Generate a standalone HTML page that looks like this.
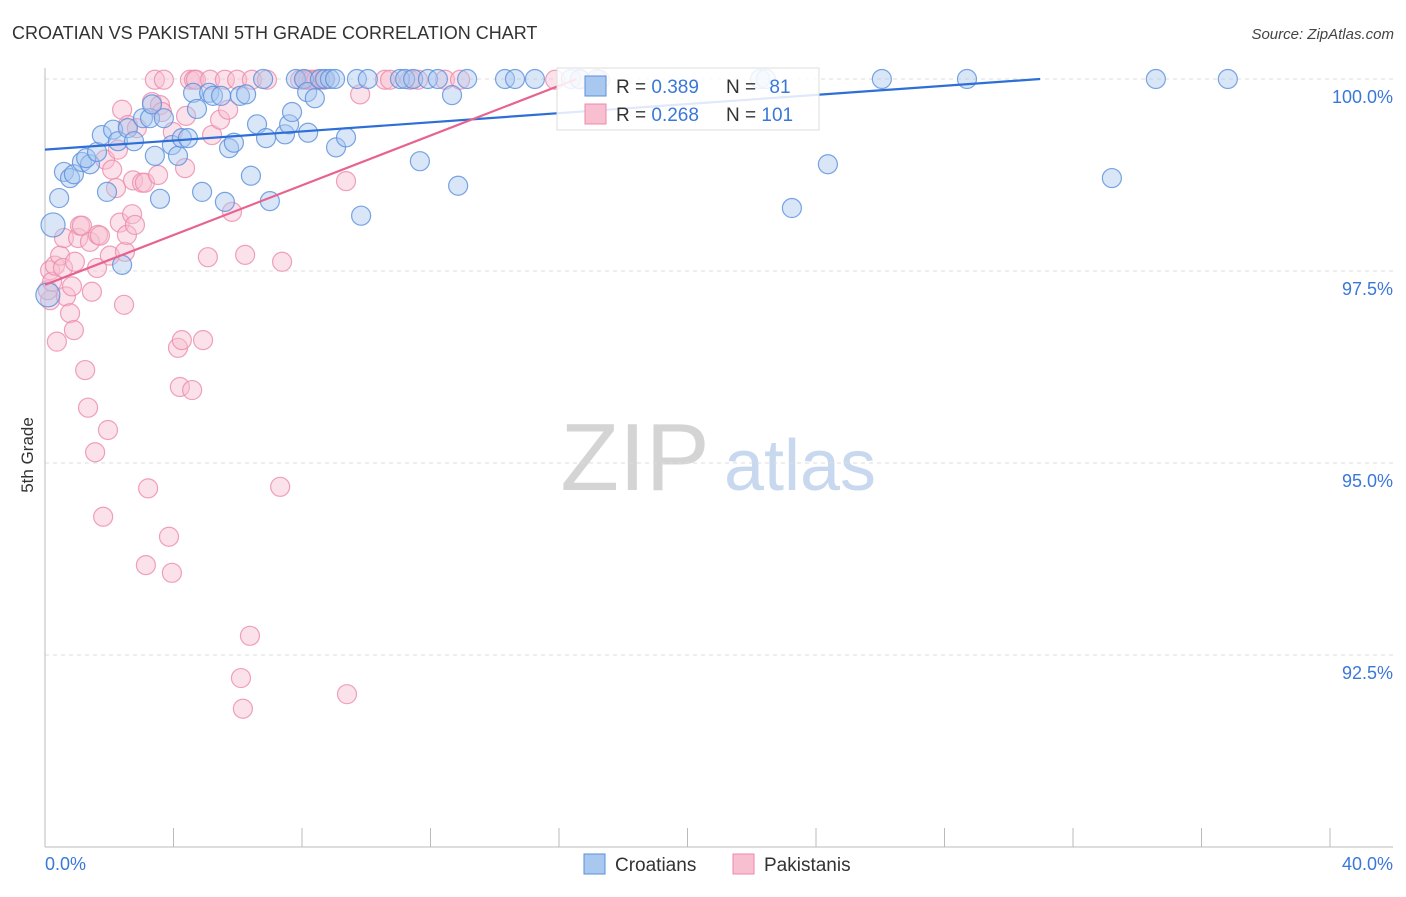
<!DOCTYPE html>
<html><head><meta charset="utf-8"><style>
body{margin:0;background:#fff;font-family:"Liberation Sans",sans-serif;}
svg text{font-family:"Liberation Sans",sans-serif;}
</style></head><body>
<svg id="chart" width="1406" height="892" xmlns="http://www.w3.org/2000/svg">
<text x="12" y="39" font-size="18" fill="#333">CROATIAN VS PAKISTANI 5TH GRADE CORRELATION CHART</text>
<text x="1394" y="39" font-size="15" font-style="italic" fill="#444" text-anchor="end">Source: ZipAtlas.com</text>
<text transform="translate(33,455) rotate(-90)" font-size="17" fill="#333" text-anchor="middle">5th Grade</text>
<g>
<text x="635" y="490" font-size="96" font-family="Liberation Serif" fill="#d4d4d4" text-anchor="middle" font-family="Liberation Serif,serif">ZIP</text>
<text x="800" y="490" font-size="72" fill="#c8d8ee" text-anchor="middle">atlas</text>
</g>
<g id="grid"></g>
<g id="axes"></g>
<g id="pts"></g>
<g id="lines"></g>
<g>
<rect x="557" y="68" width="262" height="62" fill="#fff" fill-opacity="0.85" stroke="#ddd"/>
<rect x="585" y="76" width="21" height="20" fill="#a9c8ef" stroke="#5a8fdc"/>
<rect x="585" y="104" width="21" height="20" fill="#f7bfd0" stroke="#ec8aaa"/>
<text x="616" y="93" font-size="19" fill="#333">R = <tspan fill="#3a78d8">0.389</tspan></text>
<text x="726" y="93" font-size="19" fill="#333">N = <tspan fill="#3a78d8" dx="8">81</tspan></text>
<text x="616" y="121" font-size="19" fill="#333">R = <tspan fill="#3a78d8">0.268</tspan></text>
<text x="726" y="121" font-size="19" fill="#333">N = <tspan fill="#3a78d8">101</tspan></text>
</g>
<g>
<rect x="584" y="854" width="21" height="20" fill="#a9c8ef" stroke="#5a8fdc"/>
<text x="615" y="871" font-size="19" fill="#333">Croatians</text>
<rect x="733" y="854" width="21" height="20" fill="#f7bfd0" stroke="#ec8aaa"/>
<text x="764" y="871" font-size="19" fill="#333">Pakistanis</text>
</g>
</svg>
<script>
const yTicks=[100,97.5,95,92.5];
const yTickLabels=["100.0%","97.5%","95.0%","92.5%"];
const xMin=0,xMax=40,yMin=90,yMax=100;
const croX=[0.25,0.44,0.59,0.78,0.90,1.15,1.40,1.28,1.62,1.77,1.93,2.12,2.27,2.40,2.58,2.77,3.05,3.27,3.33,3.42,3.58,3.70,3.95,4.14,4.26,4.45,4.61,4.73,4.89,5.11,5.23,5.48,5.60,5.73,5.88,6.07,6.26,6.41,6.60,6.79,6.88,7.00,7.47,7.60,7.69,7.81,8.06,8.16,8.19,8.40,8.56,8.72,8.87,9.03,9.06,9.37,9.71,9.84,10.05,11.05,11.21,11.46,11.67,11.92,12.23,12.67,12.86,13.14,14.32,14.63,15.25,16.37,16.65,17.18,22.26,22.44,23.25,24.37,26.05,28.70,33.21,34.58,36.82,0.09];
const croY=[98.10,98.45,98.79,98.71,98.76,98.92,98.89,98.97,99.05,99.27,98.53,99.34,99.19,97.58,99.36,99.19,99.49,99.49,99.67,99.00,98.44,99.49,99.14,99.00,99.23,99.23,99.82,99.61,98.53,99.82,99.78,99.78,98.40,99.10,99.17,99.78,99.80,98.74,99.41,100,99.23,98.41,99.28,99.41,99.57,100,100,99.83,99.30,99.75,100,100,100,100,99.11,99.24,100,98.22,100,100,100,100,98.93,100,100,99.79,98.61,100,100,100,100,100,100,100,100,100,98.32,98.89,100,100,98.71,100,100,97.19];
const pakX=[0.16,0.09,0.16,0.22,0.31,0.37,0.47,0.56,0.59,0.65,0.78,0.84,0.90,0.93,1.03,1.09,1.15,1.25,1.34,1.40,1.46,1.56,1.62,1.65,1.71,1.81,1.87,1.96,2.02,2.09,2.21,2.27,2.33,2.40,2.46,2.49,2.55,2.58,2.71,2.74,2.80,2.86,3.02,3.11,3.14,3.21,3.33,3.42,3.52,3.58,3.64,3.70,3.86,3.95,3.98,4.14,4.20,4.26,4.36,4.39,4.51,4.58,4.64,4.70,4.92,5.07,5.14,5.20,5.45,5.60,5.70,5.82,5.98,6.10,6.16,6.23,6.38,6.44,6.91,7.32,7.38,7.94,8.09,8.19,8.31,8.44,8.56,8.68,9.37,9.40,9.81,10.58,10.74,11.36,11.61,12.45,12.92,15.88,16.65,17.28];
const pakY=[97.12,97.25,97.51,97.36,97.57,96.58,97.70,97.54,97.93,97.17,96.95,97.30,96.73,97.62,97.93,98.09,98.09,96.21,95.72,97.88,97.23,95.14,97.54,97.97,97.96,94.30,98.95,95.43,97.70,98.82,98.58,99.08,98.13,99.60,97.06,97.75,97.97,99.40,98.24,98.68,98.10,99.36,98.65,98.65,93.67,94.67,99.70,99.99,98.75,99.66,99.57,99.99,94.04,93.57,99.31,96.50,95.99,96.60,98.84,99.52,99.99,95.95,99.99,99.99,96.60,97.68,99.99,99.27,99.47,99.99,99.60,98.27,99.99,92.20,91.80,97.71,92.75,99.99,99.99,94.69,97.62,99.99,99.99,99.99,99.99,99.99,99.99,99.99,98.67,91.99,99.80,99.99,99.99,99.99,99.99,99.99,99.99,99.99,99.99,99.99];
const croTrend=[99.08,0.0297]; // intercept, slope per %
const pakTrend=[97.32,0.162];
const X=v=>45+(v-xMin)/(xMax-xMin)*1285;
const Y=v=>79+(yMax-v)/(yMax-yMin)*768;
const NS="http://www.w3.org/2000/svg";
function mk(tag,attrs,parent){const e=document.createElementNS(NS,tag);for(const k in attrs)e.setAttribute(k,attrs[k]);parent.appendChild(e);return e;}
const grid=document.getElementById('grid'),axes=document.getElementById('axes'),pts=document.getElementById('pts'),lines=document.getElementById('lines');
yTicks.forEach((t,i)=>{
 const l=mk('line',{x1:45,x2:1393,y1:Y(t),y2:Y(t),stroke:'#ddd','stroke-dasharray':'4,4'},grid);
 
 
 const tx=mk('text',{x:1393,y:Y(t)+24,'font-size':18,fill:'#3a78d8','text-anchor':'end'},axes);
 tx.textContent=yTickLabels[i];
 
 
});
const ya=mk('line',{x1:45,x2:45,y1:68,y2:847,stroke:'#bbb'},axes);


const xa=mk('line',{x1:45,x2:1393,y1:847,y2:847,stroke:'#bbb'},axes);


for(let v=0;v<=40;v+=4){const t=mk('line',{x1:X(v),x2:X(v),y1:828,y2:847,stroke:'#bbb'},axes);
 
 }
const xl0=mk('text',{x:45,y:870,'font-size':18,fill:'#3a78d8'},axes);xl0.textContent='0.0%';


const xl1=mk('text',{x:1393,y:870,'font-size':18,fill:'#3a78d8','text-anchor':'end'},axes);xl1.textContent='40.0%';


function dots(xs,ys,fill,stroke,name){xs.forEach((x,i)=>{
 const big=(i===0&&name==='croatian-point')||(i===xs.length-1&&name==='croatian-point');
 const c=mk('circle',{cx:X(x),cy:Y(ys[i]),r:big?12:9.5,fill:fill,'fill-opacity':0.45,stroke:stroke,'stroke-width':1.2,'stroke-opacity':0.8},pts);
 
 
});}
dots(pakX,pakY,'#f7bfd0','#ec8aaa','pakistani-point');
dots(croX,croY,'#a9c8ef','#5a8fdc','croatian-point');
function trend(tr,color,name){const xe=Math.min(40,(100-tr[0])/tr[1]);
 const l=mk('line',{x1:X(0),y1:Y(tr[0]),x2:X(xe),y2:Y(tr[0]+tr[1]*xe),stroke:color,'stroke-width':2.2},lines);
 
 }
trend(croTrend,'#2d6fd6','croatian-trend-line');
trend(pakTrend,'#e8628f','pakistani-trend-line');
</script>
</body></html>
